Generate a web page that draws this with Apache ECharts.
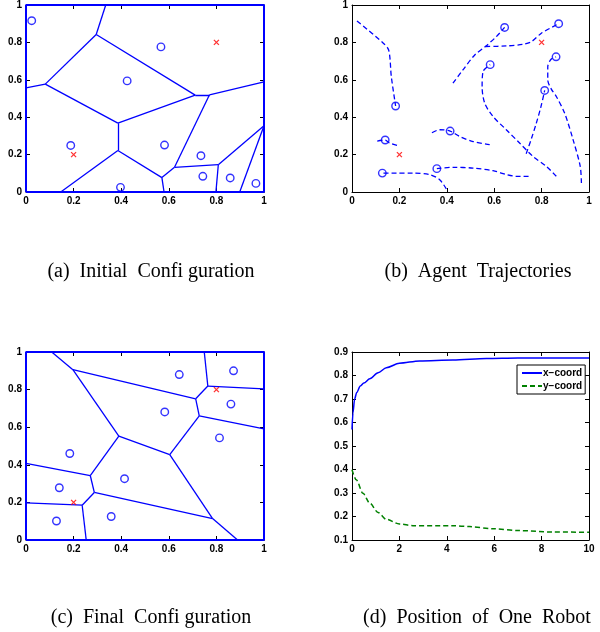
<!DOCTYPE html>
<html><head><meta charset="utf-8">
<script src="https://cdn.jsdelivr.net/npm/echarts@6/dist/echarts.min.js"></script>
<style>html,body{margin:0;padding:0;background:#fff}#c{width:600px;height:632px}</style>
</head><body><div id="c"></div>
<script>
// ---- data ----
const initX = [0.024, 0.567, 0.425, 0.188, 0.582, 0.735, 0.743, 0.858, 0.966, 0.397];
const initY = [0.916, 0.776, 0.594, 0.249, 0.251, 0.194, 0.084, 0.075, 0.046, 0.025];
const finalX = [0.644, 0.872, 0.583, 0.861, 0.813, 0.184, 0.414, 0.140, 0.128, 0.358];
const finalY = [0.880, 0.900, 0.681, 0.723, 0.543, 0.460, 0.326, 0.278, 0.101, 0.125];
const targetX = [0.2, 0.8];
const targetY = [0.2, 0.8];
const domainBox = [[0,0],[1,0],[1,1],[0,1],[0,0]];
// Voronoi edges [x1,y1,x2,y2]
const edgesInitial = [
  [0.295,0.842, 0.335,1.0], [0.081,0.577, 0.0,0.557], [0.295,0.842, 0.081,0.577],
  [0.295,0.842, 0.711,0.518], [0.711,0.518, 0.771,0.520], [0.771,0.520, 1.0,0.589],
  [0.081,0.577, 0.386,0.368], [0.386,0.368, 0.711,0.518], [0.386,0.368, 0.386,0.222],
  [0.386,0.222, 0.146,0.0], [0.386,0.222, 0.571,0.077], [0.571,0.077, 0.580,0.0],
  [0.571,0.077, 0.624,0.132], [0.624,0.132, 0.771,0.520], [0.624,0.132, 0.808,0.146],
  [0.808,0.146, 0.798,0.0], [0.808,0.146, 1.0,0.354], [1.0,0.354, 0.898,0.0]
];
const edgesFinal = [
  [0.197,0.906, 0.108,1.0], [0.197,0.906, 0.713,0.751], [0.713,0.751, 0.764,0.819],
  [0.764,0.819, 0.749,1.0], [0.764,0.819, 1.0,0.804], [0.713,0.751, 0.728,0.660],
  [0.728,0.660, 1.0,0.591], [0.728,0.660, 0.604,0.454], [0.604,0.454, 0.390,0.553],
  [0.390,0.553, 0.197,0.906], [0.390,0.553, 0.270,0.343], [0.270,0.343, 0.0,0.407],
  [0.270,0.343, 0.287,0.253], [0.287,0.253, 0.236,0.185], [0.236,0.185, 0.0,0.198],
  [0.236,0.185, 0.253,0.0], [0.287,0.253, 0.784,0.114], [0.604,0.454, 0.784,0.114],
  [0.784,0.114, 0.889,0.0]
];
// trajectories (panel b)
const traj1 = [[0.021,0.915],[0.131,0.797],[0.155,0.758],[0.166,0.616],[0.184,0.460]];
const traj2 = [[0.426,0.582],[0.468,0.653],[0.518,0.733],[0.563,0.778],[0.609,0.831],[0.644,0.880]];
const traj3 = [[0.563,0.778],[0.651,0.781],[0.722,0.790],[0.757,0.804],[0.799,0.849],[0.872,0.900]];
const traj4 = [[0.862,0.084],[0.820,0.137],[0.764,0.190],[0.707,0.262],[0.651,0.333],[0.595,0.404],[0.560,0.475],[0.549,0.564],[0.553,0.644],[0.583,0.681]];
const traj5 = [[0.398,0.016],[0.370,0.066],[0.328,0.093],[0.257,0.101],[0.187,0.101],[0.128,0.101]];
const traj6 = [[0.745,0.084],[0.693,0.084],[0.651,0.093],[0.595,0.114],[0.511,0.128],[0.426,0.132],[0.358,0.125]];
const traj7 = [[0.190,0.249],[0.158,0.262],[0.140,0.278],[0.105,0.272]];
const traj8 = [[0.581,0.253],[0.511,0.270],[0.454,0.297],[0.414,0.326],[0.370,0.333],[0.335,0.315]];
const traj9 = [[0.735,0.205],[0.757,0.285],[0.777,0.365],[0.797,0.455],[0.813,0.543]];
const traj10 = [[0.968,0.048],[0.963,0.137],[0.933,0.279],[0.897,0.422],[0.862,0.511],[0.841,0.550],[0.826,0.600],[0.826,0.670],[0.840,0.710],[0.861,0.723]];
const trajectories = [traj1,traj2,traj3,traj4,traj5,traj6,traj7,traj8,traj9,traj10];
// panel d
const tX = [0, 0.04, 0.11, 0.2, 0.35, 0.5, 0.75, 1.1, 1.45, 2.0, 2.85, 4.26, 5.67, 7.0, 10];
const xCoord = [0.57, 0.64, 0.70, 0.728, 0.755, 0.768, 0.786, 0.812, 0.833, 0.852, 0.862, 0.866, 0.872, 0.874, 0.874];
const tY = [0, 0.18, 0.46, 0.75, 1.1, 1.45, 2.0, 2.57, 4.26, 4.96, 5.95, 7.07, 8.48, 10];
const yCoord = [0.399, 0.356, 0.299, 0.257, 0.217, 0.188, 0.168, 0.161, 0.161, 0.157, 0.148, 0.140, 0.134, 0.133];
const captions = ['(a)\u2002Initial\u2002Confi guration', '(b)\u2002Agent\u2002Trajectories', '(c)\u2002Final\u2002Confi guration', '(d)\u2002Position\u2002of\u2002One\u2002Robot'];
const legendNames = ['x\u2212coord', 'y\u2212coord'];

// ---- layout ----
const grids = [
  {left:26, top:5, width:238, height:187},
  {left:352, top:5, width:237, height:187},
  {left:26, top:352, width:238, height:188},
  {left:352, top:352, width:237, height:188}
];
const ranges = [
  {x:[0,1,0.2], y:[0,1,0.2]},
  {x:[0,1,0.2], y:[0,1,0.2]},
  {x:[0,1,0.2], y:[0,1,0.2]},
  {x:[0,10,2], y:[0.1,0.9,0.1]}
];
const labelFont = {fontFamily:'Liberation Sans', fontWeight:'bold', fontSize:10, color:'#000'};
function fmt(v){ return String(parseFloat(v.toFixed(2))); }
const xAxes = [], yAxes = [];
for (let side = 0; side < 2; side++) {
  ranges.forEach((r, i) => {
    xAxes.push({type:'value', gridIndex:i, min:r.x[0], max:r.x[1], interval:r.x[2],
      position: side === 0 ? 'bottom' : 'top',
      axisLine:{show:true, onZero:false, lineStyle:{color:'#000', width:1}},
      axisTick:{show:true, inside:true, length:4, lineStyle:{color:'#000'}},
      axisLabel:Object.assign({show: side === 0, margin:4, formatter:fmt}, labelFont),
      splitLine:{show:false}});
    yAxes.push({type:'value', gridIndex:i, min:r.y[0], max:r.y[1], interval:r.y[2],
      position: side === 0 ? 'left' : 'right',
      axisLine:{show:true, onZero:false, lineStyle:{color:'#000', width:1}},
      axisTick:{show:true, inside:true, length:4, lineStyle:{color:'#000'}},
      axisLabel:Object.assign({show: side === 0, margin:4, formatter:fmt}, labelFont),
      splitLine:{show:false}});
  });
}

const BLUE = '#0000ff';
const series = [];
function edgeSeries(edges, gi) {
  series.push({type:'lines', coordinateSystem:'cartesian2d', xAxisIndex:gi, yAxisIndex:gi,
    polyline:false, silent:true, z:3,
    lineStyle:{color:BLUE, width:1.3, opacity:1},
    data: edges.map(e => ({coords:[[e[0],e[1]],[e[2],e[3]]]}))});
  series.push({type:'line', xAxisIndex:gi, yAxisIndex:gi, data:domainBox, symbol:'none', z:4,
    lineStyle:{color:BLUE, width:2}});
}
function circles(xs, ys, gi) {
  series.push({type:'scatter', xAxisIndex:gi, yAxisIndex:gi, symbol:'circle', symbolSize:7.5, z:5,
    itemStyle:{color:'rgba(0,0,0,0)', borderColor:BLUE, borderWidth:1.4},
    data: xs.map((x,k) => [x, ys[k]])});
}
function targets(gi) {
  series.push({type:'scatter', xAxisIndex:gi, yAxisIndex:gi, symbol:'path://M0,0L10,10M10,0L0,10', symbolSize:5, z:6,
    itemStyle:{color:'rgba(0,0,0,0)', borderColor:'#ff0000', borderWidth:1.3},
    data: targetX.map((x,k) => [x, targetY[k]])});
}
// panel a
edgeSeries(edgesInitial, 0); circles(initX, initY, 0); targets(0);
// panel b
trajectories.forEach(t => series.push({type:'line', xAxisIndex:1, yAxisIndex:1, data:t, symbol:'none', smooth:0.3, z:3,
  lineStyle:{color:BLUE, width:1.3, type:[5,3]}}));
circles(finalX, finalY, 1); targets(1);
// panel c
edgeSeries(edgesFinal, 2); circles(finalX, finalY, 2); targets(2);
// panel d
series.push({name:legendNames[0], type:'line', xAxisIndex:3, yAxisIndex:3, symbol:'none', smooth:0.3, smoothMonotone:'x',
  data: tX.map((t,k) => [t, xCoord[k]]), lineStyle:{color:BLUE, width:1.5}, itemStyle:{color:BLUE}});
series.push({name:legendNames[1], type:'line', xAxisIndex:3, yAxisIndex:3, symbol:'none', smooth:0.3, smoothMonotone:'x',
  data: tY.map((t,k) => [t, yCoord[k]]), lineStyle:{color:'#008000', width:1.5, type:[5,3]}, itemStyle:{color:'#008000'}});

const capPos = [{left:146, top:257}, {left:473, top:257}, {left:146, top:603}, {left:472, top:603}];
const option = {
  animation:false,
  grid: grids,
  xAxis: xAxes,
  yAxis: yAxes,
  title: captions.map((c,i) => ({text:c, left:capPos[i].left, top:capPos[i].top, textAlign:'center',
    textStyle:{fontFamily:'Liberation Serif', fontWeight:'normal', fontSize:20, color:'#000'}})),
  legend: {data:legendNames, orient:'vertical', left:517, top:365, padding:[3,3,3,4], itemGap:3,
    itemWidth:20, itemHeight:10, borderColor:'#000', borderWidth:1, backgroundColor:'#fff',
    itemStyle:{opacity:0}, lineStyle:{width:2},
    textStyle:{fontFamily:'Liberation Sans', fontWeight:'bold', fontSize:10, color:'#000', padding:[0,0,0,-4]}},
  series: series
};
const chart = echarts.init(document.getElementById('c'), null, {renderer:'canvas'});
chart.setOption(option);
</script></body></html>
